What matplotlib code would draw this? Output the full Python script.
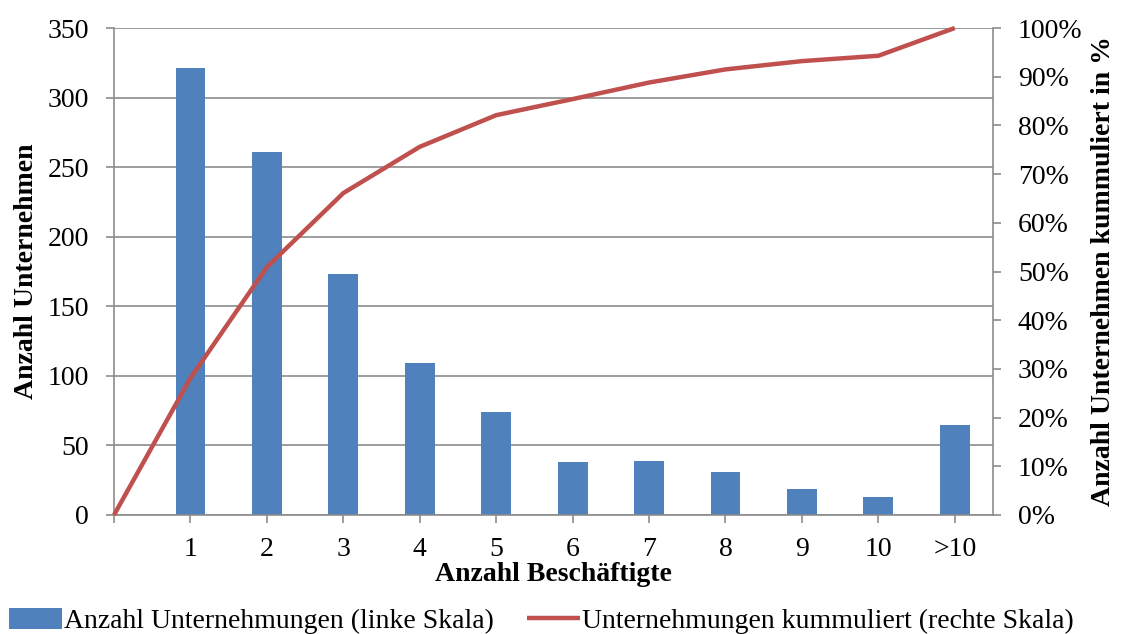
import matplotlib.pyplot as plt

# data
categories = ["1", "2", "3", "4", "5", "6", "7", "8", "9", "10", ">10"]
unternehmen = [321, 261, 173, 109, 74, 38, 39, 31, 19, 13, 65]
kumuliert = [0.0, 0.281, 0.509, 0.661, 0.756, 0.821, 0.854, 0.888, 0.915, 0.932, 0.943, 1.0]

plt.rcParams['font.family'] = ['Liberation Serif', 'DejaVu Serif']

blue = "#4F81BD"
red = "#C0504D"
grey = "#8C8C8C"

fig = plt.figure(figsize=(11.25, 6.34), dpi=100)
ax = fig.add_axes([114 / 1125, 1 - 515 / 634, (993 - 114) / 1125, (515 - 28) / 634])

x = list(range(1, len(categories) + 1))
bars = ax.bar(x, unternehmen, width=0.39, color=blue, zorder=2,
              label="Anzahl Unternehmungen (linke Skala)")
ax.set_xlim(0, 11.5)
ax.set_ylim(0, 350)
ax.set_yticks(range(0, 351, 50))
ax.set_xticks([0] + x)
ax.set_xticklabels([""] + categories)
ax.yaxis.grid(True, color=grey, linewidth=1.2, zorder=0)
ax.tick_params(axis='both', labelsize=20, color=grey, width=1.2, length=6, direction='out')
ax.tick_params(axis='y', pad=12)
ax.tick_params(axis='x', pad=10)
ax.spines["top"].set_visible(False)
for s in ["left", "bottom", "right"]:
    ax.spines[s].set_color(grey)
    ax.spines[s].set_linewidth(1.2)
ax.set_xlabel("Anzahl Beschäftigte", fontsize=20, fontweight='bold', labelpad=0)
ax.set_ylabel("Anzahl Unternehmen", fontsize=20, fontweight='bold', labelpad=6)

ax2 = ax.twinx()
line, = ax2.plot(range(0, len(kumuliert)), kumuliert, color=red, linewidth=3.2,
                 solid_capstyle='butt', clip_on=False, zorder=3,
                 label="Unternehmungen kummuliert (rechte Skala)")
ax2.set_ylim(0, 1)
ax2.set_yticks([i / 10 for i in range(11)])
ax2.set_yticklabels([f"{i * 10}%" for i in range(11)])
ax2.tick_params(axis='y', labelsize=20, color=grey, width=1.2, length=6, direction='out', pad=12)
for s in ax2.spines.values():
    s.set_visible(False)
ax2.set_ylabel("Anzahl Unternehmen kummuliert in %", fontsize=20, fontweight='bold', labelpad=6)

fig.legend([bars, line], [bars.get_label(), line.get_label()], loc='lower left',
           bbox_to_anchor=(9 / 1125, 0.0), ncol=2, frameon=False, fontsize=20,
           handlelength=1.9, handleheight=0.8, handletextpad=0.08, columnspacing=1.2,
           borderaxespad=0, borderpad=0)

fig.savefig("out.png", dpi=100)
